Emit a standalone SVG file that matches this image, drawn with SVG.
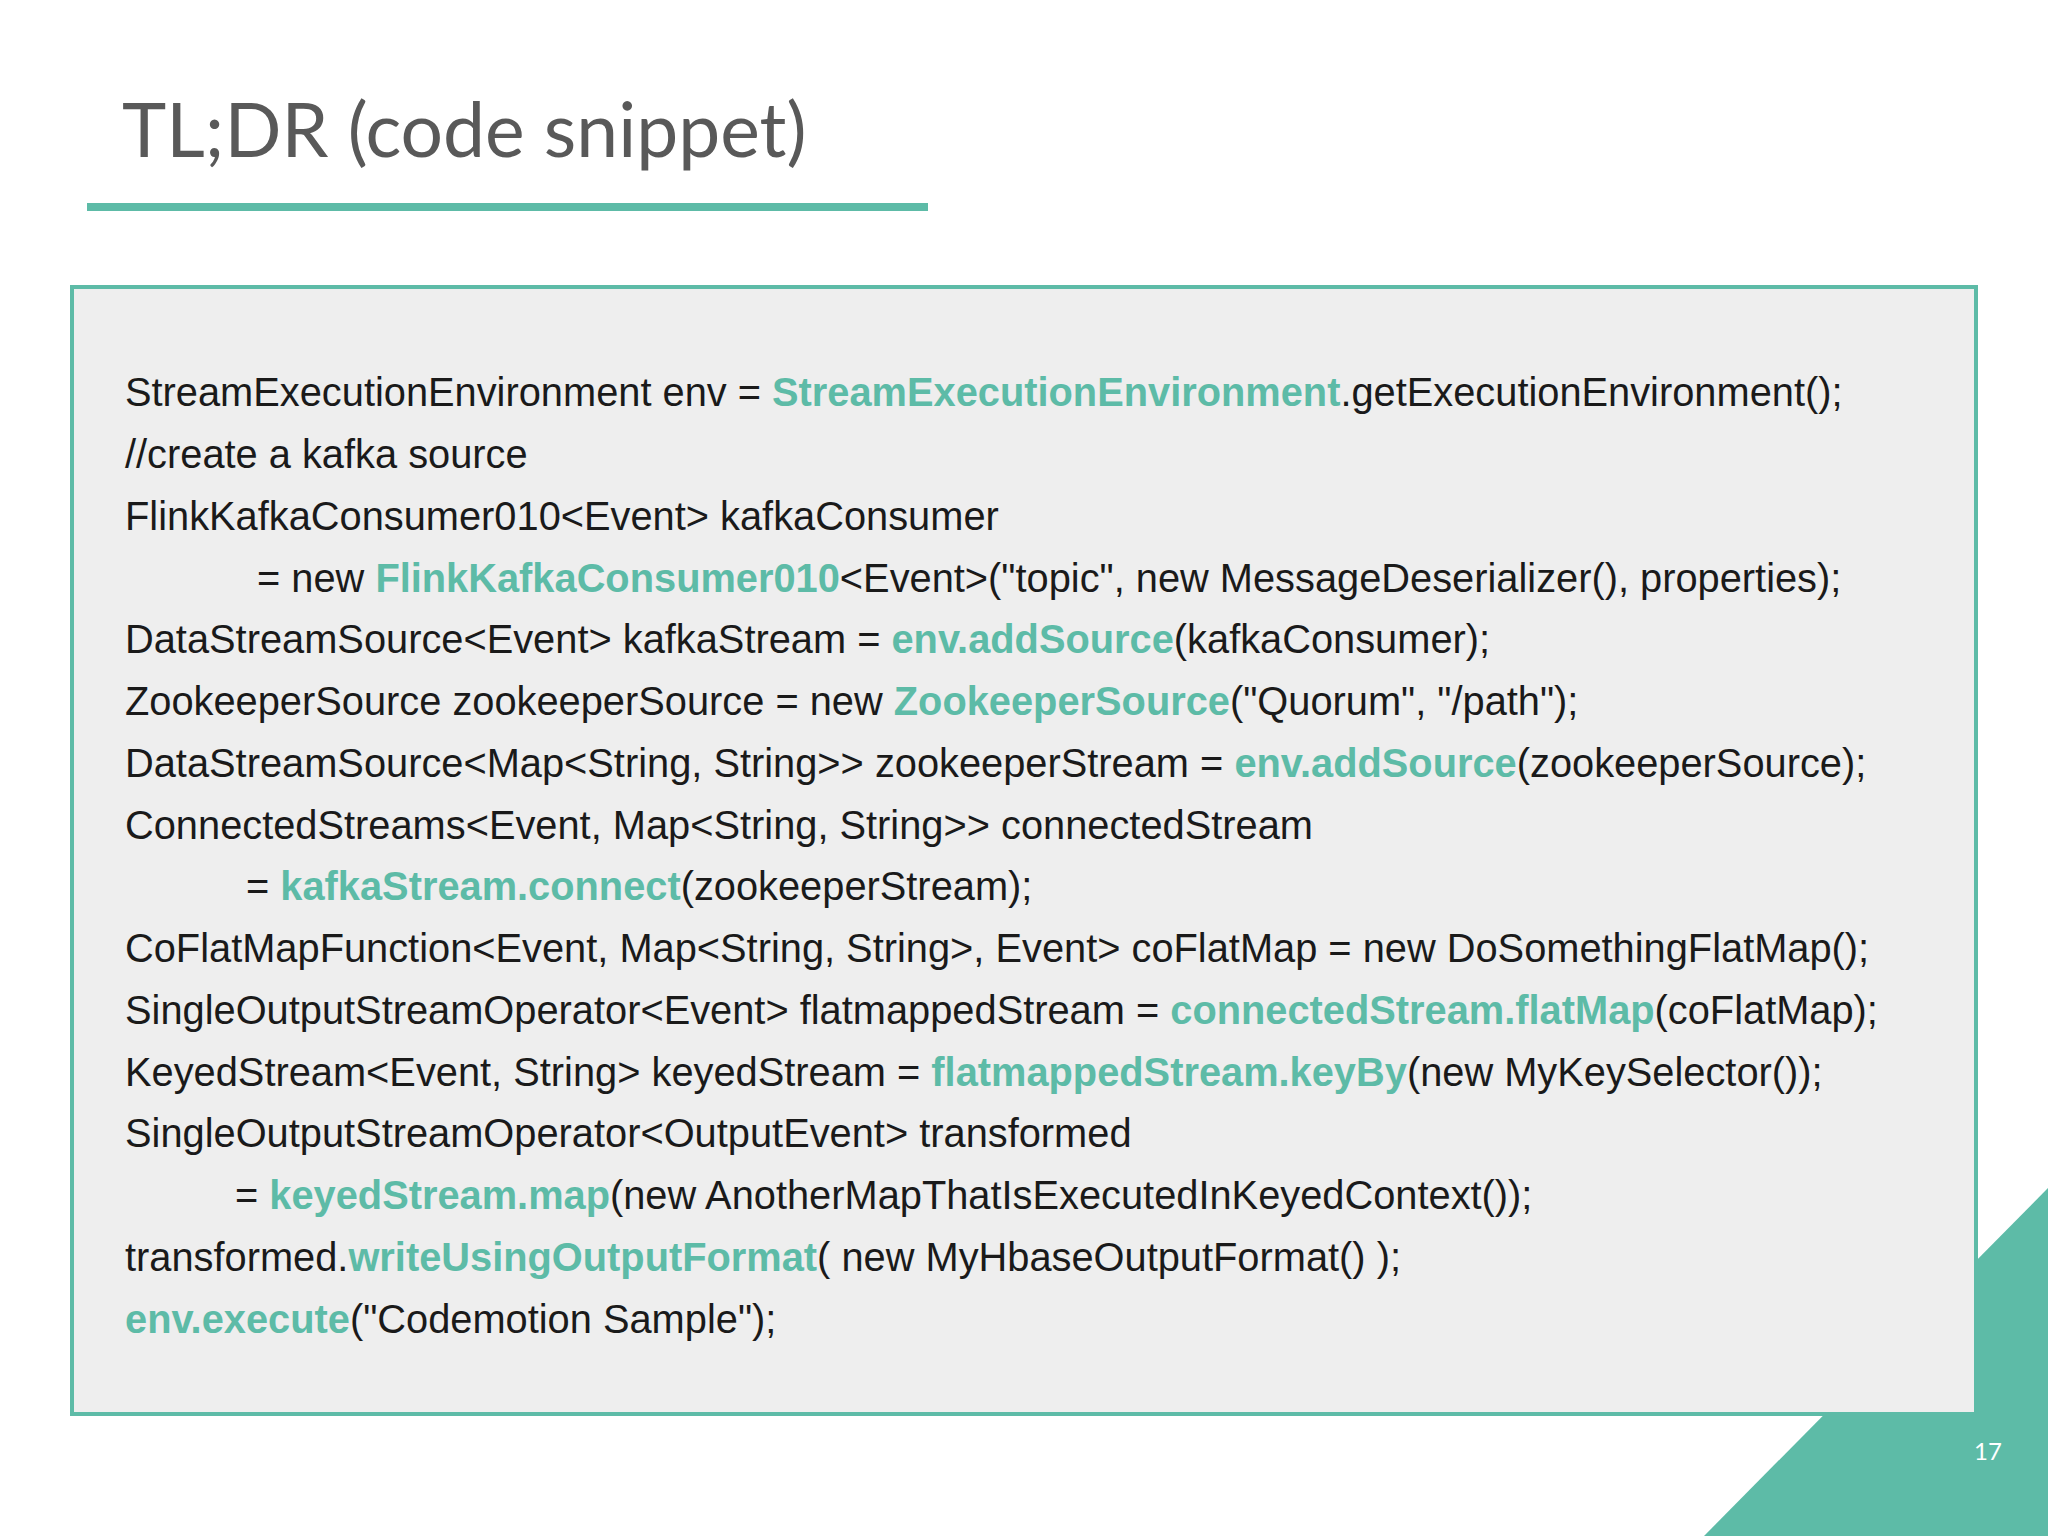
<svg xmlns="http://www.w3.org/2000/svg" width="2048" height="1536" viewBox="0 0 2048 1536">
<style>
.c{font-family:"Liberation Sans",Arial,sans-serif;font-size:39.8px;fill:#1a1a1a}
.h{fill:#5dbba7;font-weight:bold}
</style>
<rect width="2048" height="1536" fill="#ffffff"/>
<g id="title">
<text x="122" y="157" font-family="Lato,'Noto Sans',sans-serif" font-size="75" fill="#595959">TL;DR (code snippet)</text>
<rect x="87" y="203" width="841" height="8" fill="#5dbba7"/>
</g>
<polygon id="corner" points="2048,1188 2048,1536 1704,1536" fill="#5dbba7"/>
<text id="page" x="1988" y="1460" font-family="Lato,sans-serif" font-size="24" fill="#ffffff" text-anchor="middle">17</text>
<g id="codebox">
<rect x="72" y="287" width="1904" height="1127" fill="#eeeeee" stroke="#5dbba7" stroke-width="4"/>
<text class="c" x="125" y="406">StreamExecutionEnvironment env = <tspan class="h">StreamExecutionEnvironment</tspan>.getExecutionEnvironment();</text>
<text class="c" x="125" y="468">//create a kafka source</text>
<text class="c" x="125" y="530">FlinkKafkaConsumer010&lt;Event&gt; kafkaConsumer</text>
<text class="c" x="257" y="592">= new <tspan class="h">FlinkKafkaConsumer010</tspan>&lt;Event&gt;("topic", new MessageDeserializer(), properties);</text>
<text class="c" x="125" y="653">DataStreamSource&lt;Event&gt; kafkaStream = <tspan class="h">env.addSource</tspan>(kafkaConsumer);</text>
<text class="c" x="125" y="715">ZookeeperSource zookeeperSource = new <tspan class="h">ZookeeperSource</tspan>("Quorum", "/path");</text>
<text class="c" x="125" y="777">DataStreamSource&lt;Map&lt;String, String&gt;&gt; zookeeperStream = <tspan class="h">env.addSource</tspan>(zookeeperSource);</text>
<text class="c" x="125" y="839">ConnectedStreams&lt;Event, Map&lt;String, String&gt;&gt; connectedStream</text>
<text class="c" x="246" y="900">= <tspan class="h">kafkaStream.connect</tspan>(zookeeperStream);</text>
<text class="c" x="125" y="962">CoFlatMapFunction&lt;Event, Map&lt;String, String&gt;, Event&gt; coFlatMap = new DoSomethingFlatMap();</text>
<text class="c" x="125" y="1024">SingleOutputStreamOperator&lt;Event&gt; flatmappedStream = <tspan class="h">connectedStream.flatMap</tspan>(coFlatMap);</text>
<text class="c" x="125" y="1086">KeyedStream&lt;Event, String&gt; keyedStream = <tspan class="h">flatmappedStream.keyBy</tspan>(new MyKeySelector());</text>
<text class="c" x="125" y="1147">SingleOutputStreamOperator&lt;OutputEvent&gt; transformed</text>
<text class="c" x="235" y="1209">= <tspan class="h">keyedStream.map</tspan>(new AnotherMapThatIsExecutedInKeyedContext());</text>
<text class="c" x="125" y="1271">transformed.<tspan class="h">writeUsingOutputFormat</tspan>( new MyHbaseOutputFormat() );</text>
<text class="c" x="125" y="1333"><tspan class="h">env.execute</tspan>("Codemotion Sample");</text>
</g>
</svg>
